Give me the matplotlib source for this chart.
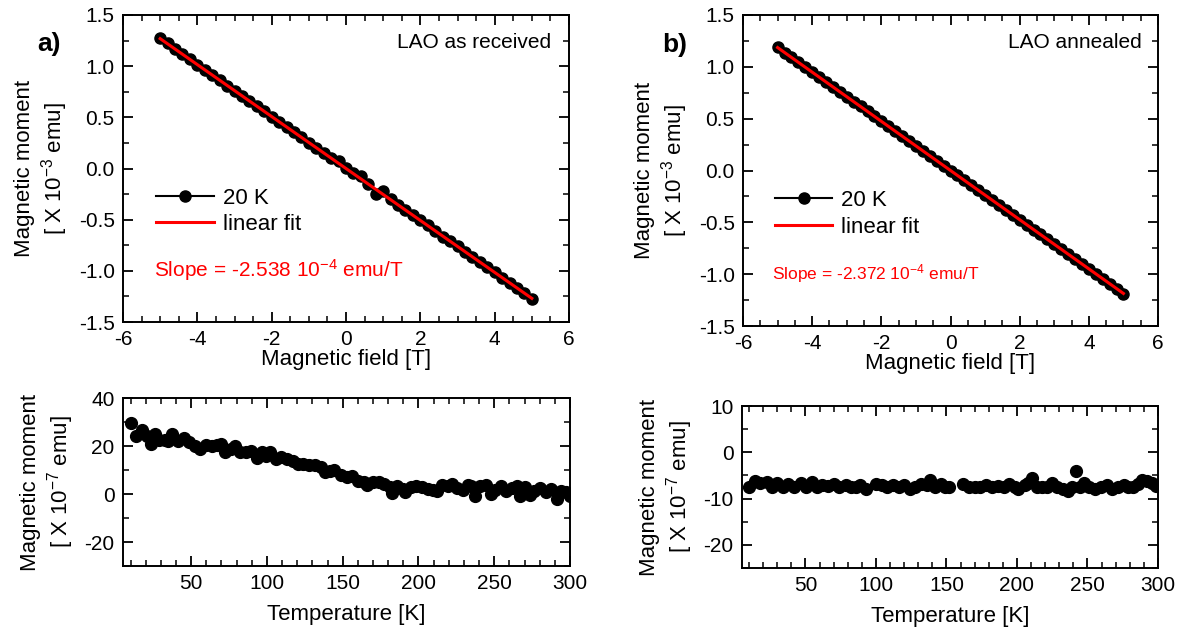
import matplotlib
matplotlib.use("Agg")
import matplotlib.pyplot as plt
from matplotlib.ticker import MultipleLocator, FormatStrFormatter

plt.rcParams['font.family'] = ['Liberation Sans', 'DejaVu Sans']
plt.rcParams['mathtext.fontset'] = 'custom'
plt.rcParams['mathtext.rm'] = 'Liberation Sans'
plt.rcParams['mathtext.it'] = 'Liberation Sans'
plt.rcParams['axes.unicode_minus'] = False

# field sweep at 20 K (T), moment in 1e-3 emu
field = [-5.0, -4.8, -4.6, -4.4, -4.2, -4.0, -3.8, -3.6, -3.4, -3.2, -3.0,
         -2.8, -2.6, -2.4, -2.2, -2.0, -1.8, -1.6, -1.4, -1.2, -1.0,
         -0.8, -0.6, -0.4, -0.2, 0.0, 0.2, 0.4, 0.6, 0.8, 1.0,
         1.2, 1.4, 1.6, 1.8, 2.0, 2.2, 2.4, 2.6, 2.8, 3.0,
         3.2, 3.4, 3.6, 3.8, 4.0, 4.2, 4.4, 4.6, 4.8, 5.0]

moment_a = [1.280, 1.222, 1.170, 1.118, 1.068, 1.012, 0.962, 0.915, 0.862, 0.808, 0.760,
            0.708, 0.662, 0.608, 0.560, 0.506, 0.455, 0.404, 0.357, 0.303, 0.252,
            0.200, 0.153, 0.100, 0.070, 0.005, -0.048, -0.075, -0.150, -0.250, -0.220,
            -0.300, -0.355, -0.405, -0.455, -0.508, -0.556, -0.610, -0.672, -0.712, -0.762,
            -0.812, -0.862, -0.915, -0.965, -1.015, -1.066, -1.118, -1.166, -1.220, -1.280]

moment_b = [1.190, 1.138, 1.092, 1.045, 0.995, 0.950, 0.902, 0.855, 0.806, 0.760, 0.712,
            0.664, 0.618, 0.570, 0.522, 0.475, 0.427, 0.380, 0.332, 0.285, 0.238,
            0.190, 0.142, 0.095, 0.047, 0.000, -0.048, -0.095, -0.142, -0.190, -0.237,
            -0.285, -0.330, -0.380, -0.427, -0.475, -0.522, -0.570, -0.617, -0.665, -0.712,
            -0.760, -0.807, -0.855, -0.902, -0.950, -0.997, -1.045, -1.092, -1.140, -1.190]

fit_x = [-5.0, 5.0]
fit_a = [1.269, -1.269]
fit_b = [1.186, -1.186]

# temperature sweeps, moment in 1e-7 emu
temp_a = [10, 13.4, 17.3, 20.8, 23.5, 26, 29, 32.7, 35, 37.6, 41.3, 45, 48.8, 52.5, 56,
          60, 63.6, 67, 69.8, 72.3, 76, 79, 82, 86, 89.6, 93.3, 97, 99.5, 102, 105.7,
          109.4, 113, 117, 120.5, 124, 128, 132, 135.6, 138, 141.6, 144, 149, 152.7,
          156.4, 160, 163.8, 166, 170, 173.8, 177.5, 181, 182.4, 186, 189.8, 191,
          194.8, 198.5, 202, 206, 209.6, 212, 215.8, 219.5, 222, 225.7, 229.5, 232.7,
          234.4, 237.6, 240.6, 244.3, 248, 250.5, 254.2, 257.9, 261.6, 265.3, 267.3,
          270.3, 273.3, 276.5, 280, 283.9, 287.6, 291.3, 293.8, 297.5, 300]
mom_a = [29.6, 24.0, 26.8, 24.3, 21.0, 25.0, 22.6, 22.6, 22.0, 25.0, 22.2, 23.2, 21.5, 20.1, 18.8,
         20.4, 20.1, 20.5, 20.8, 17.4, 18.8, 19.9, 17.6, 17.4, 18.0, 14.9, 17.4, 16.0, 17.6, 14.6,
         15.3, 14.6, 13.9, 12.5, 12.5, 12.1, 12.1, 11.1, 9.0, 9.7, 10.1, 7.9, 6.9,
         7.4, 5.6, 5.1, 3.8, 4.9, 5.1, 4.2, 2.8, 0.3, 3.5, 2.1, 1.0,
         2.8, 3.2, 2.8, 2.1, 1.8, 1.4, 3.8, 3.2, 4.2, 2.4, 1.8, 3.8,
         3.2, -1.0, 3.5, 3.8, 0.0, 1.8, 3.2, 1.4, 2.4, 3.2, -0.7,
         2.8, -0.4, 1.4, 2.4, 1.0, 2.1, -2.1, 1.4, 0.7, -0.7]

temp_b = [10, 14.3, 18, 22.4, 26.2, 29.7, 33.8, 37.8, 41.9, 46.8, 50.5, 54.6, 58, 62, 66,
          70, 74, 78.4, 82.4, 85.7, 89, 92.7, 100, 104, 108, 112, 116, 120, 124, 128, 132,
          136, 138.6, 142, 146, 148.6, 152, 162, 166, 170, 174, 178, 182, 186.5, 190.5,
          194.6, 198.6, 201, 205.4, 208, 210.8, 214.3, 217.6, 221.6, 225, 228.4, 232.4,
          236, 239, 241.9, 244.6, 247.3, 251.4, 255.4, 259.5, 263.5, 267.6, 271.6, 275.7,
          279, 282.4, 285.7, 288.4, 292, 296, 298.4]
mom_b = [-7.6, -6.1, -6.7, -6.4, -7.4, -6.6, -7.4, -6.9, -7.4, -6.6, -7.4, -6.4, -7.4, -7.1, -7.3,
         -6.9, -7.4, -7.1, -7.4, -7.6, -7.1, -7.9, -6.9, -7.1, -7.4, -7.1, -7.4, -7.1, -8.0, -7.4, -6.9,
         -7.1, -6.0, -7.4, -6.9, -7.6, -7.4, -6.9, -7.4, -7.4, -7.4, -7.1, -7.6, -7.3, -7.4,
         -6.9, -7.4, -7.9, -7.1, -6.6, -5.5, -7.4, -7.6, -7.4, -6.6, -7.4, -7.9,
         -8.4, -7.4, -4.1, -7.4, -6.6, -7.4, -8.0, -7.4, -7.1, -7.9, -7.4, -7.1,
         -7.6, -7.4, -6.9, -5.9, -6.2, -6.6, -7.3]

W, H = 1181, 637
fig = plt.figure(figsize=(W / 100, H / 100), dpi=100)


def box(x0, y0, x1, y1):
    return [x0 / W, 1 - y1 / H, (x1 - x0) / W, (y1 - y0) / H]


ax_a = fig.add_axes(box(123, 15, 569, 322))
ax_b = fig.add_axes(box(743, 15, 1158, 326))
ax_c = fig.add_axes(box(123, 398, 570, 566))
ax_d = fig.add_axes(box(742, 406, 1158, 568))


def style(ax):
    ax.tick_params(which='both', direction='in', top=True, right=True, labelsize=15, pad=6)
    ax.tick_params(which='major', length=7, width=1.3)
    ax.tick_params(which='minor', length=4, width=1.1)
    for s in ax.spines.values():
        s.set_linewidth(1.4)


for ax, m, fit, slope, fs, title, lab in [
        (ax_a, moment_a, fit_a, '-2.538', 15, 'LAO as received', 'a)'),
        (ax_b, moment_b, fit_b, '-2.372', 12.5, 'LAO annealed', 'b)')]:
    ax.plot(field, m, '-o', color='black', ms=8, lw=1.5, label='20 K')
    ax.plot(fit_x, fit, '-', color='red', lw=2.2, label='linear fit')
    ax.set_xlim(-6, 6)
    ax.set_ylim(-1.5, 1.5)
    ax.xaxis.set_major_locator(MultipleLocator(2))
    ax.xaxis.set_minor_locator(MultipleLocator(0.5))
    ax.yaxis.set_major_locator(MultipleLocator(0.5))
    ax.yaxis.set_minor_locator(MultipleLocator(0.25))
    ax.yaxis.set_major_formatter(FormatStrFormatter('%.1f'))
    style(ax)
    ax.set_xlabel('Magnetic field [T]', fontsize=16, labelpad=0)
    ax.set_ylabel('Magnetic moment\n[ X 10$^{-3}$ emu]', fontsize=16, labelpad=6)
    ax.legend(loc='center left', bbox_to_anchor=(0.055, 0.36), frameon=False, fontsize=16,
              handlelength=2.6, handletextpad=0.4, labelspacing=0.25, borderaxespad=0)
    ax.text(0.96, 0.91, title, transform=ax.transAxes, ha='right', va='center', fontsize=15)
    ax.text(0.07, 0.17, 'Slope = ' + slope + ' 10$^{-4}$ emu/T', transform=ax.transAxes,
            color='red', fontsize=fs, va='center')
    ax.text(-0.165, 0.905, lab, transform=ax.transAxes, fontsize=19, fontweight='bold',
            ha='center', va='center')

ax_c.plot(temp_a, mom_a, 'o', color='black', ms=8.5)
ax_c.set_xlim(5, 300)
ax_c.set_ylim(-30, 40)
ax_c.xaxis.set_major_locator(MultipleLocator(50))
ax_c.xaxis.set_minor_locator(MultipleLocator(10))
ax_c.yaxis.set_major_locator(MultipleLocator(20))
ax_c.yaxis.set_minor_locator(MultipleLocator(10))
style(ax_c)
ax_c.set_xlabel('Temperature [K]', fontsize=16, labelpad=8)
ax_c.set_ylabel('Magnetic moment\n[ X 10$^{-7}$ emu]', fontsize=16, labelpad=6)

ax_d.plot(temp_b, mom_b, 'o', color='black', ms=8.5)
ax_d.set_xlim(5, 300)
ax_d.set_ylim(-25, 10)
ax_d.xaxis.set_major_locator(MultipleLocator(50))
ax_d.xaxis.set_minor_locator(MultipleLocator(10))
ax_d.yaxis.set_major_locator(MultipleLocator(10))
ax_d.yaxis.set_minor_locator(MultipleLocator(5))
style(ax_d)
ax_d.set_xlabel('Temperature [K]', fontsize=16, labelpad=8)
ax_d.set_ylabel('Magnetic moment\n[ X 10$^{-7}$ emu]', fontsize=16, labelpad=6)

fig.savefig('out.png', dpi=100)
